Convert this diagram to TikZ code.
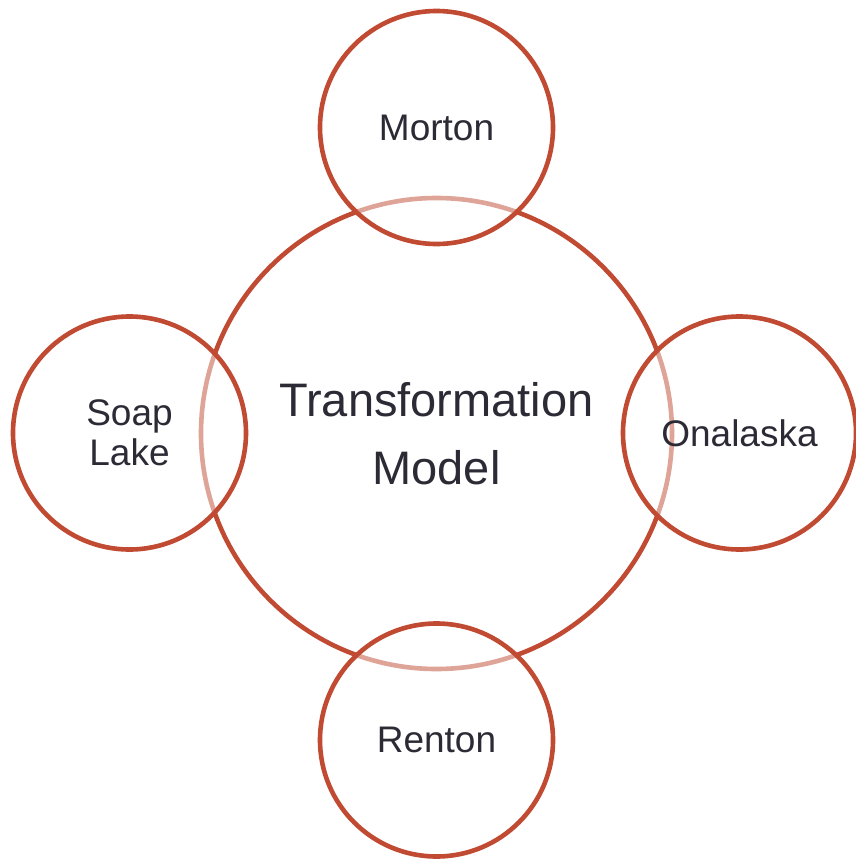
\documentclass[tikz,border=0pt]{standalone}
\usepackage{fontspec}
\setmainfont{Liberation Sans}
\definecolor{ring}{HTML}{C04A32}
\definecolor{txt}{HTML}{2B2A35}
\begin{document}
\begin{tikzpicture}[x=1pt,y=1pt,
  bigc/.style={circle,draw=ring,line width=4.6pt,minimum size=471pt,inner sep=0pt,text=txt,align=center,font=\fontsize{47}{68}\selectfont},
  smallc/.style={circle,draw=ring,line width=4.6pt,minimum size=233pt,inner sep=0pt,text=txt,align=center,font=\fontsize{37}{40}\selectfont,fill=white,fill opacity=0.5,text opacity=1}]
\useasboundingbox (0,0) rectangle (855,-861);
\node[bigc] (center) at (436.5,-433.5) {Transformation\\Model};
\node[smallc] (morton) at (436.5,-127.5) {Morton};
\node[smallc] (soap) at (129.5,-433) {Soap\\Lake};
\node[smallc] (onal) at (739.5,-433) {Onalaska};
\node[smallc] (renton) at (436.5,-740) {Renton};
\end{tikzpicture}
\end{document}
